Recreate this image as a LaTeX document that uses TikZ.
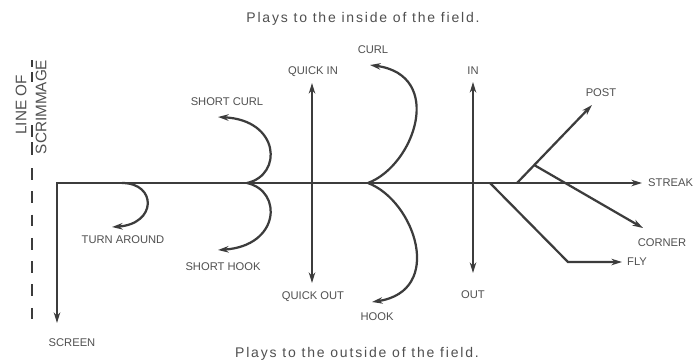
\documentclass[tikz,border=0pt]{standalone}
\usepackage{fontspec}
\setmainfont{Liberation Sans}
\usetikzlibrary{arrows.meta,calc}
\definecolor{ink}{HTML}{3C3C3C}
\definecolor{txt}{HTML}{505050}
\begin{document}
\begin{tikzpicture}[x=0.85pt,y=-0.85pt,
  route/.style={draw=ink,line width=1.9pt,line cap=butt},
  tip/.style={-{Stealth[length=9pt,width=5.5pt]}},
  tips/.style={{Stealth[length=9pt,width=5.5pt]}-{Stealth[length=9pt,width=5.5pt]}},
  lbl/.style={text=txt,font=\fontsize{9.5pt}{10pt}\selectfont,inner sep=0pt},
  head/.style={text=txt,font=\fontsize{11.9pt}{13pt}\selectfont\addfontfeature{LetterSpace=13},inner sep=0pt},
  los/.style={text=txt,font=\fontsize{13pt}{14pt}\selectfont,inner sep=0pt,rotate=90},
  dashbar/.style={draw=ink,line width=1.6pt}]
\useasboundingbox[fill=white] (0,0) rectangle (697,361);

% headers
\node[head,anchor=base] (hin) at (363,22) {Plays to the inside of the field.};
\node[head,anchor=base] (hout) at (357,357) {Plays to the outside of the field.};

% line of scrimmage label and dashed line
\node[los] (lo) at (21,105) {LINE OF};
\node[los] (sc) at (41,107) {SCRIMMAGE};
\foreach \a/\b in {60/67,72/82,125/137,142/155} \draw[dashbar] (32,\a) -- (32,\b);
\coordinate (d0) at (32,168);
\coordinate (d1) at (32,320);
\draw[dashbar,dash pattern=on 9.9pt off 9.9pt] (d0) -- (d1);

% coordinates
\coordinate (corner) at (57,183);
\coordinate (screen) at (57,323);
\coordinate (streak) at (642,183);
\coordinate (taS) at (122,183);
\coordinate (taE) at (112,227);
\coordinate (sj) at (247,183);
\coordinate (scE) at (218,117);
\coordinate (shE) at (218,250);
\coordinate (qiT) at (312,83);
\coordinate (qiB) at (312,283);
\coordinate (cj) at (368,183);
\coordinate (cuE) at (370,65);
\coordinate (hoE) at (372,302);
\coordinate (ioT) at (473,82);
\coordinate (ioB) at (473,273);
\coordinate (poA) at (517,183);
\coordinate (poB) at (592,105);
\coordinate (coA) at ($(poA)!0.23!(poB)$);
\coordinate (coB) at (643,228);
\coordinate (flA) at (490,183);
\coordinate (flK) at (568,262);
\coordinate (flB) at (622,262);

% routes
\draw[route,tips] (screen) -- (corner) -- (streak);
\draw[route,tip] (taS) .. controls (157,183) and (157,224) .. (taE);
\draw[route,tip] (sj) .. controls (283,175) and (280,120) .. (scE);
\draw[route,tip] (sj) .. controls (283,191) and (280,246) .. (shE);
\draw[route,tips] (qiT) -- (qiB);
\draw[route,tip] (cj) .. controls (415,165) and (445,75) .. (cuE);
\draw[route,tip] (cj) .. controls (415,201) and (445,291) .. (hoE);
\draw[route,tips] (ioT) -- (ioB);
\draw[route,tip] (poA) -- (poB);
\draw[route,tip] (coA) -- (coB);
\draw[route,tip] (flA) -- (flK) -- (flB);

% labels
\node[lbl] (lscreen) at (72,343) {SCREEN};
\node[lbl] (lturn) at (123,240) {TURN AROUND};
\node[lbl] (lscurl) at (227,102) {SHORT CURL};
\node[lbl] (lshook) at (223,267) {SHORT HOOK};
\node[lbl] (lqin) at (313,72) {QUICK IN};
\node[lbl] (lqout) at (313,297) {QUICK OUT};
\node[lbl] (lcurl) at (373,50) {CURL};
\node[lbl] (lhook) at (377,317) {HOOK};
\node[lbl] (lin) at (473,71) {IN};
\node[lbl] (lout) at (473,295) {OUT};
\node[lbl] (lpost) at (601,93) {POST};
\node[lbl,anchor=west] (lstreak) at (648,183) {STREAK};
\node[lbl] (lcorner) at (662,243) {CORNER};
\node[lbl,anchor=west] (lfly) at (627,262) {FLY};
\end{tikzpicture}
\end{document}
